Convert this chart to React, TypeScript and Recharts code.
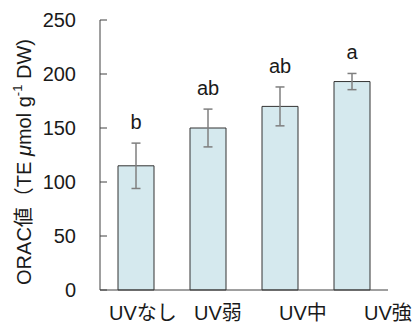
import React from "react";
import {
  Bar,
  ComposedChart,
  ErrorBar,
  LabelList,
  Line,
  XAxis,
  YAxis,
  Label,
} from "recharts";

const categories = ["UVなし", "UV弱", "UV中", "UV強"];
const orac = [115, 150, 170, 193];
const oracSd = [21, 17.5, 18, 7.5];
const letters = ["b", "ab", "ab", "a"];
const yTicks = [0, 50, 100, 150, 200, 250];

const data = categories.map((name, i) => ({
  name,
  orac: orac[i],
  sd: oracSd[i],
  top: orac[i] + oracSd[i],
  letter: letters[i],
}));

const FONT = '"Liberation Sans", Arial, "Noto Sans CJK JP", sans-serif';
const TEXT = "#1a1a1a";

// x labels in the source are spread wider than the bars
const XTick = (props: any) => {
  const { x, y, payload, index } = props;
  return (
    <text
      x={x - 27 + index * 13}
      y={y}
      dy={22}
      textAnchor="start"
      fontSize={20}
      fontFamily={FONT}
      fill={TEXT}
    >
      {payload.value}
    </text>
  );
};

const YTitle = (props: any) => {
  const vb = props.viewBox || {};
  const cx = 24;
  const cy = (vb.y ?? 20) + (vb.height ?? 270) / 2 + 7;
  return (
    <text
      x={cx}
      y={cy}
      transform={`rotate(-90 ${cx} ${cy})`}
      textAnchor="middle"
      dominantBaseline="central"
      fontSize={20}
      fontFamily={FONT}
      fill={TEXT}
    >
      ORAC値（TE <tspan fontStyle="italic">μ</tspan>mol g
      <tspan dy={-7} fontSize={13}>
        -1
      </tspan>
      <tspan dy={7}> DW)</tspan>
    </text>
  );
};

export default function App() {
  return (
    <div style={{ position: "absolute", left: 0, top: 0 }}>
      <ComposedChart
        width={413}
        height={325}
        data={data}
        margin={{ top: 20, right: 25, bottom: 0, left: 0 }}
        barSize={36}
      >
        <XAxis
          dataKey="name"
          axisLine={{ stroke: "#404040" }}
          tickLine={false}
          tick={<XTick />}
          height={35}
          interval={0}
        />
        <YAxis
          domain={[0, 250]}
          ticks={yTicks}
          width={100}
          axisLine={{ stroke: "#404040" }}
          tickLine={{ stroke: "#404040" }}
          tickSize={-7}
          tickMargin={31}
          tick={{ fontSize: 20, fontFamily: FONT, fill: TEXT }}
          interval={0}
        >
          <Label content={<YTitle />} />
        </YAxis>
        <Bar
          dataKey="orac"
          fill="#d5e9ee"
          stroke="#333333"
          strokeWidth={1}
          isAnimationActive={false}
        >
          <ErrorBar dataKey="sd" width={4.5} stroke="#7f7f7f" strokeWidth={1.5} />
        </Bar>
        <Line
          dataKey="top"
          stroke="none"
          dot={false}
          activeDot={false}
          isAnimationActive={false}
        >
          <LabelList
            dataKey="letter"
            position="top"
            offset={14}
            fontSize={20}
            fontFamily={FONT}
            fill={TEXT}
          />
        </Line>
      </ComposedChart>
    </div>
  );
}
